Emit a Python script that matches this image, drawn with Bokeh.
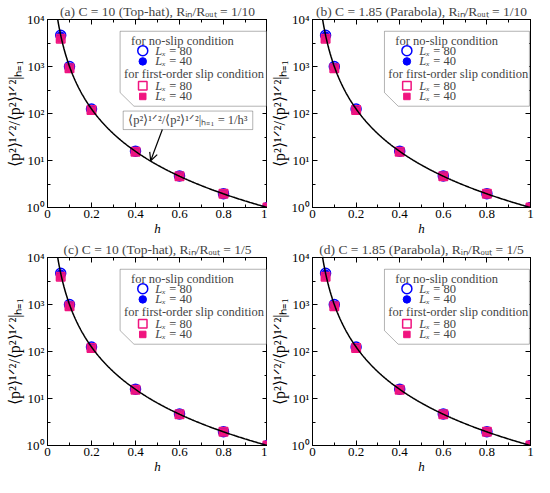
import numpy as np
from bokeh.plotting import figure
from bokeh.models import (FixedTicker, LinearAxis, LogAxis, Range1d, Arrow, OpenHead,
                          Label, PolyAnnotation, CustomJSTickFormatter)
from bokeh.layouts import gridplot
from bokeh.embed import file_html
from bokeh.resources import INLINE

# ---- data ----
h = [0.06, 0.1, 0.2, 0.4, 0.6, 0.8, 1.0]
noslip_80 = [4600, 1000, 125, 15.8, 4.7, 1.97, 1.0]
noslip_40 = [4550, 990, 124, 15.7, 4.65, 1.96, 1.0]
slip_80 = [3900, 920, 118, 15.3, 4.6, 1.95, 1.0]
slip_40 = [3850, 910, 117, 15.2, 4.55, 1.94, 1.0]

titles = [
    "(a) C = 10 (Top-hat), R\u1d62\u2099/R\u2092\u1d64\u209c = 1/10",
    "(b) C = 1.85 (Parabola), R\u1d62\u2099/R\u2092\u1d64\u209c = 1/10",
    "(c) C = 10 (Top-hat), R\u1d62\u2099/R\u2092\u1d64\u209c = 1/5",
    "(d) C = 1.85 (Parabola), R\u1d62\u2099/R\u2092\u1d64\u209c = 1/5",
]
x_ticks = [0, 0.2, 0.4, 0.6, 0.8, 1.0]
x_tick_labels = ["0", "0.2", "0.4", "0.6", "0.8", "1"]
y_ticks = [1, 10, 100, 1000, 10000]
y_tick_labels = ["10\u2070", "10\u00b9", "10\u00b2", "10\u00b3", "10\u2074"]
legend_headers = ["for no-slip condition", "for first-order slip condition"]
legend_values = ["= 80", "= 40", "= 80", "= 40"]

# theoretical curve 1/h^3 (the stated analytic line)
theory_h = np.linspace(0.0464, 1.0, 300)
theory_y = 1.0 / theory_h ** 3

FONT = "Liberation Serif"
BLUE = "#0000FF"
PINK = "#F0147F"
YLABEL = "\u27e8p\u00b2\u27e9\u00b9\u141f\u00b2/\u27e8p\u00b2\u27e9\u00b9\u141f\u00b2|\u2095\u208c\u2081"
X_MINOR = [0.1, 0.3, 0.5, 0.7, 0.9]
Y_MINOR = [10 ** 0.5, 10 ** 1.5, 10 ** 2.5, 10 ** 3.5]


def make_panel(idx):
    left = 47 if idx % 2 == 0 else 41
    right = 0 if idx % 2 == 0 else 4
    p = figure(width=267, height=238, output_backend="svg", toolbar_location=None,
               y_axis_type="log", x_range=Range1d(0, 1.0), y_range=Range1d(1, 1e4),
               min_border_left=left, min_border_right=right,
               min_border_top=19, min_border_bottom=28, title=titles[idx])
    p.title.text_font = FONT
    p.title.text_font_size = "13.5px"
    p.title.text_font_style = "normal"
    p.title.align = "center"
    p.title.standoff = 1
    p.title.offset = -8 if idx % 2 == 0 else 0
    p.grid.visible = False
    p.outline_line_color = "black"
    p.outline_line_alpha = 1
    p.background_fill_color = "white"
    p.border_fill_color = "white"

    xa = p.xaxis[0]
    xa.ticker = FixedTicker(ticks=x_ticks, minor_ticks=X_MINOR)
    xa.major_label_overrides = dict(zip(x_ticks, x_tick_labels))
    xa.axis_label = "h"
    xa.axis_label_text_font_style = "italic"
    xa.axis_label_text_font_size = "13px"
    xa.axis_label_standoff = 0
    xa.major_label_standoff = 2
    ya = p.yaxis[0]
    ya.ticker = FixedTicker(ticks=y_ticks, minor_ticks=Y_MINOR)
    ya.major_label_overrides = dict(zip(y_ticks, y_tick_labels))
    ya.axis_label = YLABEL
    ya.axis_label_text_font_style = "normal"
    ya.axis_label_text_font_size = "16px"
    ya.axis_label_standoff = 1
    ya.major_label_standoff = 3
    for ax in (xa, ya):
        ax.axis_label_text_font = FONT
        ax.major_label_text_font = FONT
        ax.major_label_text_font_size = "13px"
        ax.major_tick_in = 5
        ax.major_tick_out = 0
        ax.minor_tick_in = 3
        ax.minor_tick_out = 0
        ax.axis_line_color = "black"
        ax.major_tick_line_color = "black"
        ax.minor_tick_line_color = "black"
        ax.major_label_text_color = "black"
        ax.axis_label_text_color = "black"

    blank = CustomJSTickFormatter(code="return '';")
    top = LinearAxis(ticker=FixedTicker(ticks=x_ticks, minor_ticks=X_MINOR), formatter=blank)
    right_ax = LogAxis(ticker=FixedTicker(ticks=y_ticks, minor_ticks=Y_MINOR), formatter=blank)
    for ax in (top, right_ax):
        ax.major_label_standoff = 0
        ax.major_tick_in = 5
        ax.major_tick_out = 0
        ax.minor_tick_in = 3
        ax.minor_tick_out = 0
        ax.axis_line_color = "black"
    p.add_layout(top, "above")
    p.add_layout(right_ax, "right")

    # data
    p.scatter(h, noslip_80, marker="circle", size=10, fill_color=None,
              line_color=BLUE, line_width=1.5)
    p.scatter(h, noslip_40, marker="circle", size=7.5, fill_color=BLUE, line_color=BLUE)
    p.scatter(h, slip_80, marker="square", size=8.5, fill_color=None,
              line_color=PINK, line_width=1.5)
    p.scatter(h, slip_40, marker="square", size=6.5, fill_color=PINK, line_color=PINK)
    p.line(theory_h, theory_y, line_color="black", line_width=1.5)

    # legend box with cut corner
    d = lambda v: 10 ** v
    p.add_layout(PolyAnnotation(
        xs=[0.33, 0.995, 0.995, 0.393, 0.33],
        ys=[d(3.75), d(3.75), d(2.155), d(2.155), d(2.445)],
        fill_color="white", fill_alpha=1, line_color="black", line_width=1))

    def lab(x, y, t, italic=False, xoff=0):
        p.add_layout(Label(x=x, y=d(y), text=t, text_font=FONT, text_font_size="12.5px",
                           text_baseline="middle", x_offset=xoff,
                           text_font_style="italic" if italic else "normal"))
    lab(0.38, 3.544, legend_headers[0])
    lab(0.348, 2.839, legend_headers[1])
    for yy, v in zip([3.337, 3.109, 2.591, 2.363], legend_values):
        lab(0.49, yy, "L\u2093", italic=True)
        lab(0.49, yy, v, xoff=14)
    p.scatter([0.433], [d(3.337)], marker="circle", size=10, fill_color=None,
              line_color=BLUE, line_width=1.5, level="overlay")
    p.scatter([0.433], [d(3.109)], marker="circle", size=7.5, fill_color=BLUE,
              line_color=BLUE, level="overlay")
    p.scatter([0.433], [d(2.591)], marker="square", size=8.5, fill_color=None,
              line_color=PINK, line_width=1.5, level="overlay")
    p.scatter([0.433], [d(2.363)], marker="square", size=6.5, fill_color=PINK,
              line_color=PINK, level="overlay")

    if idx == 0:
        p.add_layout(PolyAnnotation(
            xs=[0.344, 0.933, 0.933, 0.344],
            ys=[d(2.052), d(2.052), d(1.658), d(1.658)],
            fill_color="white", fill_alpha=1, line_color="black", line_width=1))
        p.add_layout(Label(x=0.638, y=d(1.855),
                           text=YLABEL + " = 1/h\u00b3", text_font=FONT,
                           text_font_size="12.5px", text_align="center",
                           text_baseline="middle"))
        p.add_layout(Arrow(end=OpenHead(size=8, line_width=1.2), line_width=1.2,
                           x_start=0.522, y_start=d(1.658), x_end=0.469, y_end=d(0.995)))
    return p


plots = [make_panel(i) for i in range(4)]
grid = gridplot([[plots[0], plots[1]], [plots[2], plots[3]]], toolbar_location=None)
open("out.html", "w").write(file_html(grid, INLINE))
